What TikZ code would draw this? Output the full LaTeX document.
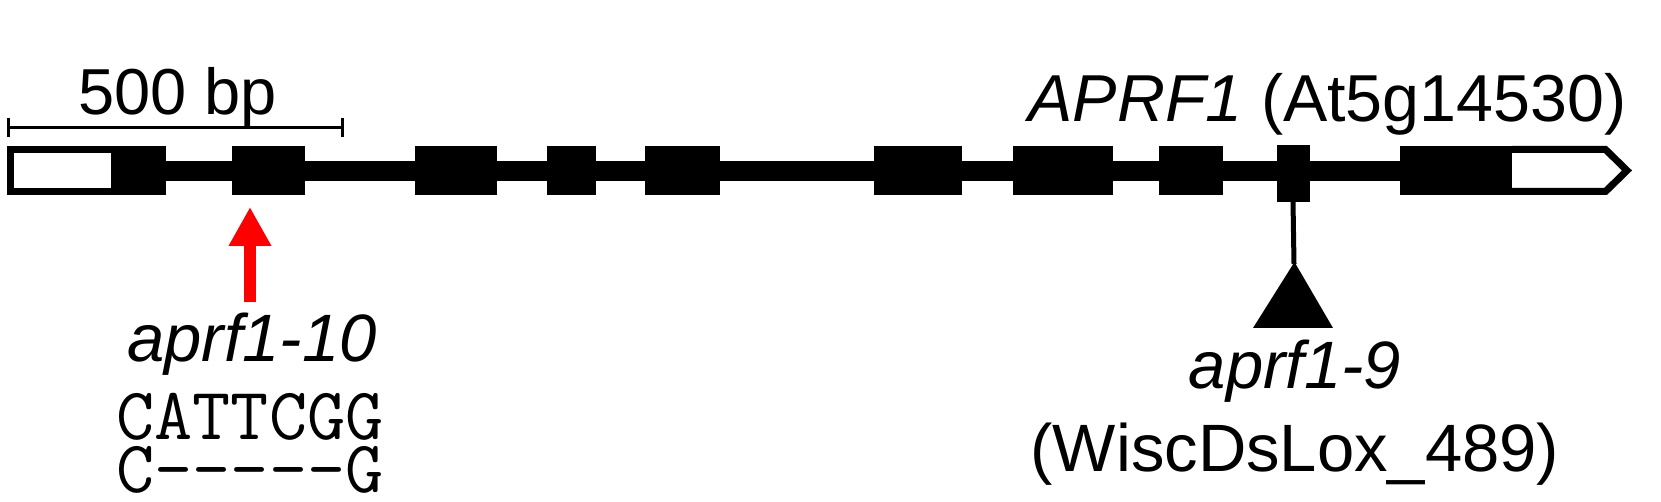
\documentclass[tikz,border=0pt]{standalone}
\usepackage{fontspec}
\setmainfont{Liberation Sans}
\usetikzlibrary{arrows.meta}
\begin{document}
\begin{tikzpicture}[x=0.5pt,y=-0.5pt,
  exon/.style={fill=black,draw=none},
  utr/.style={draw=black,line width=3.5pt,fill=white,line join=miter},
  bar/.style={draw=black,line width=1.5pt},
  lbl/.style={inner sep=0pt,anchor=base,font=\fontsize{33.5}{40}\selectfont},
  seq/.style={inner sep=0pt,anchor=base,font=\ttfamily\fontsize{37}{40}\selectfont},
  ]
\useasboundingbox (0,0) rectangle (1661,502);
% intron line
\fill (166,161) rectangle (1400,181);
% 5' UTR
\draw[utr] (10.5,149.5) rectangle (114,191.5);
% 3' UTR
\draw[utr] (1512,149.5) -- (1605.5,149.5) -- (1627,170.5) -- (1605.5,191.5) -- (1512,191.5);
% exons
\path[exon] (114,146) rectangle (166,195);
\path[exon] (232,146) rectangle (305,195);
\path[exon] (415,146) rectangle (497,195);
\path[exon] (547,146) rectangle (596,195);
\path[exon] (645,146) rectangle (720,195);
\path[exon] (874,146) rectangle (962,195);
\path[exon] (1013,146) rectangle (1113,195);
\path[exon] (1159,146) rectangle (1223,195);
\path[exon] (1277,145) rectangle (1310,202);
\path[exon] (1400,146) rectangle (1512,195);
% scale bar
\coordinate (sbL) at (8,128);
\coordinate (sbR) at (342,128);
\draw[bar] (sbL) -- (sbR);
\draw[bar] ([yshift=5pt]sbL) -- ([yshift=-4.5pt]sbL);
\draw[bar] ([yshift=5pt]sbR) -- ([yshift=-4.5pt]sbR);
\node[lbl,font=\fontsize{32.5}{40}\selectfont] (scale) at (177.5,115) {500 bp};
% gene name
\node[lbl,font=\fontsize{33.2}{40}\selectfont] (gene) at (1327.5,122) {\textit{APRF1} (At5g14530)};
% aprf1-10 arrow
\coordinate (a10s) at (250,302);
\coordinate (a10t) at (250,207);
\draw[red,line width=6pt,-{Triangle[width=20pt,length=19.5pt]}] (a10s) -- (a10t);
\node[lbl] (m10) at (252,362) {\textit{aprf1-10}};
\node[seq] (s1) at (250,439) {CATTCGG};
\node[seq] (s2) at (250,492) {C-{}-{}-{}-{}-G};
% aprf1-9 insertion
\coordinate (ins) at (1293,201);
\coordinate (tri) at (1294,264);
\draw[line width=2.5pt] (ins) -- (tri);
\fill (1294.5,262) -- (1333,328) -- (1253,328) -- cycle;
\node[lbl] (m9) at (1295,388) {\textit{aprf1-9}};
\node[lbl] (wisc) at (1295,471) {(WiscDsLox\_489)};
\end{tikzpicture}
\end{document}
